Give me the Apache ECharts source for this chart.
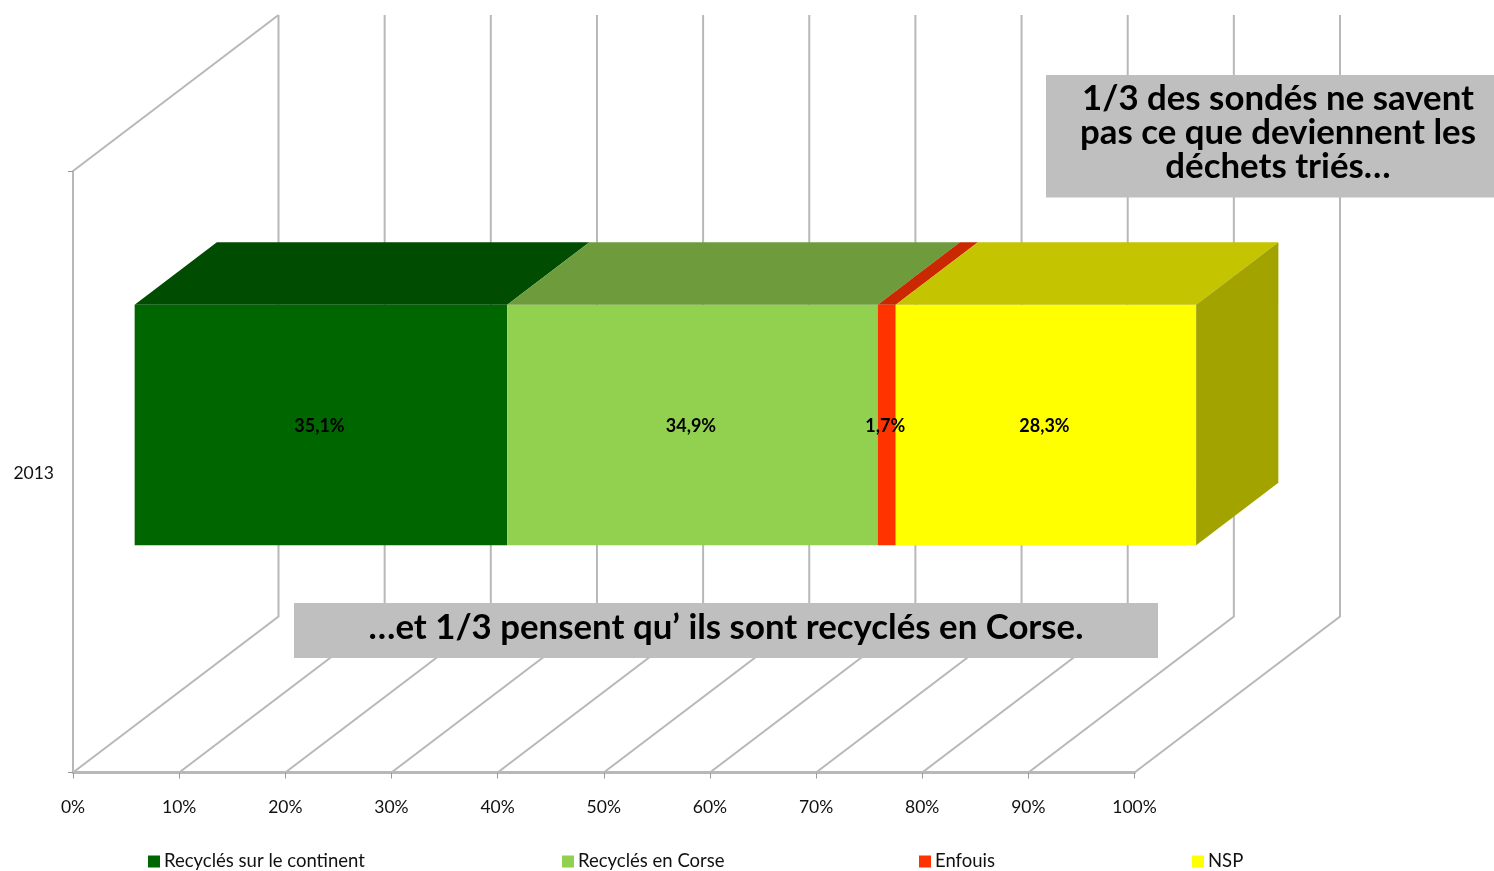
<!DOCTYPE html>
<html>
<head>
<meta charset="utf-8">
<title>Devenir des déchets triés</title>
<style>
  html, body { margin: 0; padding: 0; background: #fff; }
  #chart { width: 1494px; height: 871px; }
</style>
<script src="https://cdn.jsdelivr.net/npm/echarts@6/dist/echarts.min.js"></script>
</head>
<body>
<div id="chart"></div>
<script>
// data
const categories = ['2013'];
const seriesNames = ['Recyclés sur le continent', 'Recyclés en Corse', 'Enfouis', 'NSP'];
const values = [35.1, 34.9, 1.7, 28.3];
const xTicks = [0, 10, 20, 30, 40, 50, 60, 70, 80, 90, 100];
const note1 = '1/3 des sondés ne savent\npas ce que deviennent les\ndéchets triés…';
const note2 = '…et 1/3 pensent qu’ ils sont recyclés en Corse.';

// colours: front, top, side
const faces = [
  ['#006600', '#004c00', '#004000'],
  ['#92d050', '#6e9c3c', '#5c8232'],
  ['#ff3300', '#c92800', '#a82000'],
  ['#ffff00', '#c4c400', '#a3a300']
];
const legendLeft = [143, 557, 914, 1187];

// fake 3d: the floor runs back by this much
const depthX = 205.5;
const depthY = -156;
const gridColor = '#b8b8b8';
const font = 'Lato, "Noto Sans", sans-serif';

const chart = echarts.init(document.getElementById('chart'));

function renderWalls(params, api) {
  const tick = api.value(0);
  const front = api.coord([tick, 0]);
  const band = api.size([0, 1])[1];
  const bottom = [front[0], front[1] + band / 2];
  const back = [bottom[0] + depthX, bottom[1] + depthY];
  const children = [{
    type: 'polyline',
    shape: { points: [bottom, back, [back[0], back[1] - band]] },
    style: { stroke: gridColor, lineWidth: 2, fill: null }
  }];
  // left wall top edge
  if (params.dataIndex === 0) {
    children.push({
      type: 'line',
      shape: { x1: bottom[0], y1: bottom[1] - band, x2: back[0], y2: back[1] - band },
      style: { stroke: gridColor, lineWidth: 2 }
    });
  }
  return { type: 'group', children: children };
}

function renderSegment(idx) {
  return function (params, api) {
    const start = api.value(0);
    const end = api.value(1);
    const a = api.coord([start, 0]);
    const b = api.coord([end, 0]);
    const band = api.size([0, 1])[1];
    const h = band * 0.4;
    // bar sits between 30% and 70% of the floor depth
    const x0 = a[0] + depthX * 0.3;
    const x1 = b[0] + depthX * 0.3;
    const yMid = a[1] + depthY * 0.3;
    const yTop = yMid - h / 2;
    const yBot = yMid + h / 2;
    const dx = depthX * 0.4;
    const dy = depthY * 0.4;
    const children = [
      { type: 'rect', shape: { x: x0, y: yTop, width: x1 - x0, height: h }, style: { fill: faces[idx][0] } },
      { type: 'polygon', shape: { points: [[x0, yTop], [x1, yTop], [x1 + dx, yTop + dy], [x0 + dx, yTop + dy]] }, style: { fill: faces[idx][1] } }
    ];
    if (idx === values.length - 1) {
      children.push({
        type: 'polygon',
        shape: { points: [[x1, yTop], [x1 + dx, yTop + dy], [x1 + dx, yBot + dy], [x1, yBot]] },
        style: { fill: faces[idx][2] }
      });
    }
    return { type: 'group', children: children };
  };
}

function renderLabel(params, api) {
  const a = api.coord([api.value(0), 0]);
  const b = api.coord([api.value(1), 0]);
  return {
    type: 'text',
    x: (a[0] + b[0]) / 2 + depthX * 0.3 - 1.5,
    y: a[1] + depthY * 0.3 + 1,
    style: {
      text: api.value(2).toFixed(1).replace('.', ',') + '%',
      x: 0, y: 0,
      align: 'center', verticalAlign: 'middle',
      font: 'bold 18px ' + font,
      fill: '#000'
    }
  };
}

// stack the values
const segments = [];
let sum = 0;
values.forEach(function (v) {
  segments.push([sum, sum + v, v]);
  sum += v;
});

const series = [{
  type: 'custom',
  name: 'walls',
  silent: true,
  z: 1,
  clip: false,
  renderItem: renderWalls,
  encode: { x: 0 },
  data: xTicks.map(function (t) { return [t]; })
}];
seriesNames.forEach(function (name, i) {
  series.push({
    type: 'custom',
    name: name,
    z: 3,
    clip: false,
    renderItem: renderSegment(i),
    itemStyle: { color: faces[i][0] },
    encode: { x: [0, 1] },
    data: [segments[i]]
  });
});
series.push({
  type: 'custom',
  name: 'labels',
  silent: true,
  z: 4,
  clip: false,
  renderItem: renderLabel,
  encode: { x: [0, 1] },
  data: segments
});

chart.setOption({
  animation: false,
  backgroundColor: '#fff',
  textStyle: { fontFamily: font },
  grid: { left: 73, top: 171, width: 1061.5, height: 601.5 },
  xAxis: {
    type: 'value',
    min: 0,
    max: 100,
    interval: 10,
    splitLine: { show: false },
    axisLine: { show: true, lineStyle: { color: gridColor, width: 3 } },
    axisTick: { show: true, length: 6, lineStyle: { color: '#999', width: 1 } },
    axisLabel: { formatter: '{value}%', fontSize: 17.5, color: '#111', margin: 26, fontFamily: font }
  },
  yAxis: {
    type: 'category',
    data: categories,
    axisLine: { show: true, lineStyle: { color: gridColor, width: 2 } },
    axisTick: { show: true, length: 5, lineStyle: { color: '#999', width: 1 } },
    axisLabel: {
      margin: 19,
      formatter: '{a|{value}}',
      rich: { a: { fontSize: 17.5, color: '#111', fontFamily: font, padding: [4, 0, 0, 0] } }
    }
  },
  legend: seriesNames.map(function (name, i) {
    return {
      data: [name],
      left: legendLeft[i],
      top: 847,
      icon: 'rect',
      itemWidth: 12,
      itemHeight: 12,
      itemGap: 0,
      selectedMode: false,
      textStyle: { fontSize: 18.5, color: '#111', fontFamily: font, padding: [0, 0, 0, -1] }
    };
  }),
  graphic: [
    { type: 'rect', z: 10, shape: { x: 1046, y: 75, width: 448, height: 122.5 }, style: { fill: '#bfbfbf' } },
    { type: 'text', z: 11, x: 1278, y: 132.5, style: { text: note1, align: 'center', verticalAlign: 'middle', font: 'bold 34.8px ' + font, lineHeight: 34, fill: '#000' } },
    { type: 'rect', z: 10, shape: { x: 294, y: 603, width: 864, height: 55 }, style: { fill: '#bfbfbf' } },
    { type: 'text', z: 11, x: 726, y: 628, style: { text: note2, align: 'center', verticalAlign: 'middle', font: 'bold 34.8px ' + font, fill: '#000' } }
  ],
  series: series
});
</script>
</body>
</html>
